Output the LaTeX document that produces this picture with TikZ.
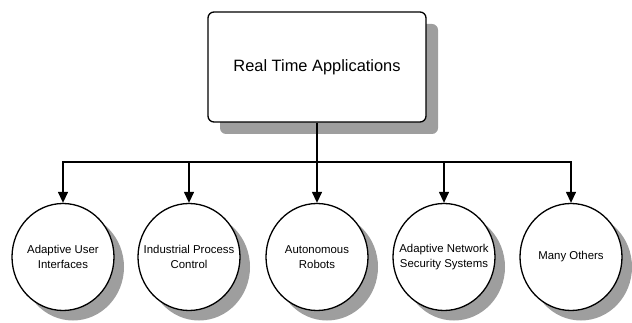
\documentclass[tikz,border=0pt]{standalone}
\usepackage{fontspec}
\setmainfont{Liberation Sans}
\usetikzlibrary{shapes.geometric,shadows,arrows.meta}
\begin{document}
\begin{tikzpicture}[x=1pt,y=-1pt,
  topbox/.style={draw,line width=1.3pt,rounded corners=6pt,fill=white,
    minimum width=218pt,minimum height=110pt,inner sep=0pt,
    font=\fontsize{16.4}{19}\selectfont,
    drop shadow={shadow xshift=12pt,shadow yshift=-12pt,fill=black!38,opacity=1}},
  leaf/.style={draw,ellipse,line width=1.3pt,fill=white,
    minimum width=102pt,minimum height=107pt,inner sep=0pt,
    drop shadow={shadow xshift=10pt,shadow yshift=-10pt,fill=black!38,opacity=1},
    label={[align=center,font=\fontsize{11.4}{15}\selectfont]center:#1}},
  conn/.style={line width=1.3pt},
  arr/.style={conn,-{Triangle[length=11pt,width=10pt]}}]
\useasboundingbox (0,0) rectangle (632,323);
\node[topbox] (top) at (317,67) {Real Time Applications};
\coordinate (bus) at (317,162);
\node[leaf={Adaptive User\\Interfaces}] (c1) at (63,257) {};
\node[leaf={Industrial Process\\Control}] (c2) at (189,257) {};
\node[leaf={Autonomous\\Robots}] (c3) at (317,257) {};
\node[leaf={Adaptive Network\\Security Systems}] (c4) at (444,257) {};
\node[leaf={Many Others}] (c5) at (571,257) {};
\draw[conn] (top.south) -- (bus);
\draw[arr] (bus) -| (c1.north);
\draw[arr] (bus) -| (c2.north);
\draw[arr] (bus) -- (c3.north);
\draw[arr] (bus) -| (c4.north);
\draw[arr] (bus) -| (c5.north);
\end{tikzpicture}
\end{document}
